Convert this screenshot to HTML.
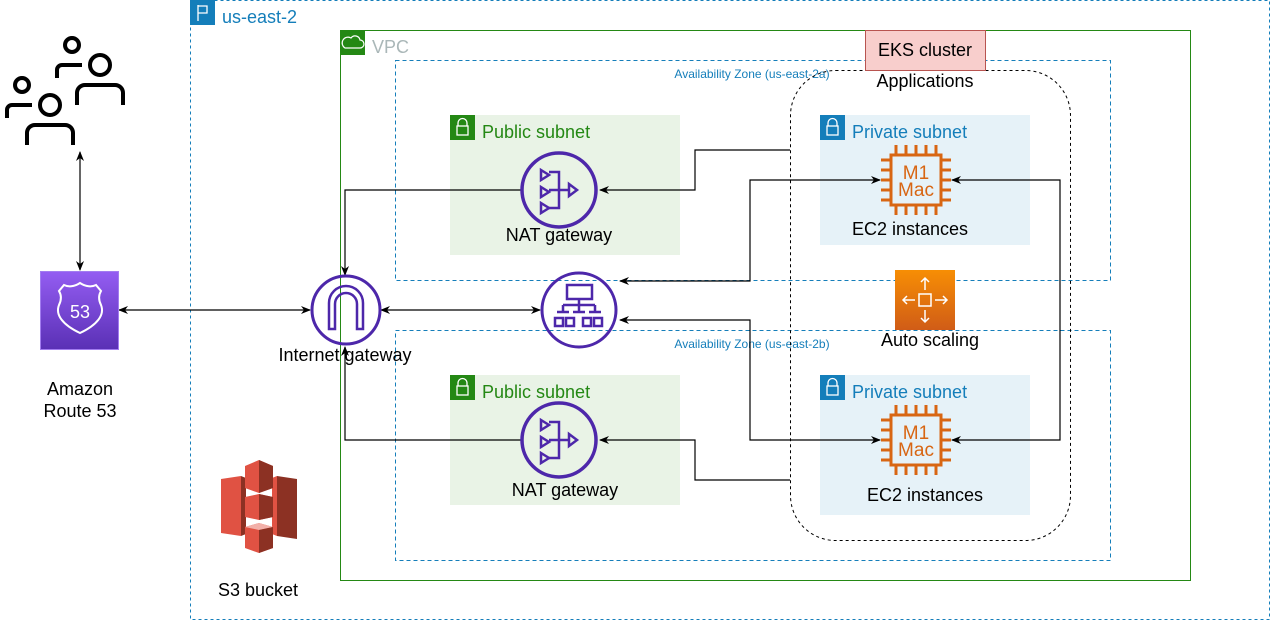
<!DOCTYPE html>
<html><head><meta charset="utf-8"><style>
html,body{margin:0;padding:0;background:#fff;width:1271px;height:621px;overflow:hidden}
text{font-family:"Liberation Sans",sans-serif}
</style></head><body>
<svg width="1271" height="621" viewBox="0 0 1271 621" xmlns="http://www.w3.org/2000/svg">
<defs>
<marker id="a" viewBox="0 0 10 10" refX="9" refY="5" markerWidth="10" markerHeight="10" markerUnits="userSpaceOnUse" orient="auto-start-reverse"><path d="M0,1 L10,5 L0,9 L3,5 Z" fill="#000"/></marker>
<linearGradient id="pg" x1="0" y1="0" x2="0" y2="1"><stop offset="0" stop-color="#945df2"/><stop offset="1" stop-color="#5a30b5"/></linearGradient>
<linearGradient id="og" x1="0" y1="0" x2="0" y2="1"><stop offset="0" stop-color="#f78e04"/><stop offset="1" stop-color="#d05c17"/></linearGradient>
<g id="chip" stroke="#d86613" stroke-width="3" fill="none">
<rect x="-25" y="-25" width="50" height="50"/>
<path d="M-20,-25v-10M-10,-25v-10M0,-25v-10M10,-25v-10M20,-25v-10M-20,25v10M-10,25v10M0,25v10M10,25v10M20,25v10M-25,-20h-10M-25,-10h-10M-25,0h-10M-25,10h-10M-25,20h-10M25,-20h10M25,-10h10M25,0h10M25,10h10M25,20h10"/>
</g>
<g id="nat" stroke="#4d27aa" stroke-width="3.5" fill="none">
<circle r="37"/>
<path d="M-18,-20l8,5l-8,5z M-18,-3l8,5l-8,5z M-18,13l8,5l-8,5z" stroke-width="2.5"/>
<path d="M-10,-18h10v36h-10 M-10,0h20" stroke-width="2.5"/>
<path d="M18,0l-8,-6v12z" stroke-width="2.5"/>
</g>
<g id="lock"><rect width="25" height="25"/><path d="M8,11v-3a4.5,4.5 0 0 1 9,0v3" stroke="#fff" stroke-width="1.3" fill="none"/><rect x="7" y="11" width="11" height="9" fill="none" stroke="#fff" stroke-width="1.3"/></g>
</defs>

<rect x="190.5" y="0.5" width="1079" height="619" fill="none" stroke="#147eba" stroke-dasharray="3,3"/>
<rect x="190" y="0" width="25" height="25" fill="#147eba"/>
<path d="M198,5v16M198,6h9v7h-9" stroke="#fff" stroke-width="1.3" fill="none"/>
<text x="222" y="23" font-size="18" fill="#147eba">us-east-2</text>

<rect x="340.5" y="30.5" width="850" height="550" fill="none" stroke="#248814"/>
<rect x="340" y="30" width="25" height="25" fill="#248814"/>
<path d="M345,48h15a4,4 0 0 0 0,-8a5,5 0 0 0 -9,-2a4,4 0 0 0 -6,10z" stroke="#fff" stroke-width="1.2" fill="none"/>
<text x="372" y="53" font-size="18" fill="#aab7b8">VPC</text>

<rect x="395.5" y="60.5" width="715" height="220" fill="none" stroke="#147eba" stroke-dasharray="4,3"/>
<text x="752" y="78" font-size="12" fill="#147eba" text-anchor="middle">Availability Zone (us-east-2a)</text>
<rect x="395.5" y="330.5" width="715" height="230" fill="none" stroke="#147eba" stroke-dasharray="4,3"/>
<text x="752" y="348" font-size="12" fill="#147eba" text-anchor="middle">Availability Zone (us-east-2b)</text>

<rect x="450" y="115" width="230" height="140" fill="#e9f3e6"/>
<use href="#lock" x="450" y="115" fill="#248814"/>
<text x="482" y="138" font-size="18" fill="#248814">Public subnet</text>
<rect x="450" y="375" width="230" height="130" fill="#e9f3e6"/>
<use href="#lock" x="450" y="375" fill="#248814"/>
<text x="482" y="398" font-size="18" fill="#248814">Public subnet</text>
<rect x="820" y="115" width="210" height="130" fill="#e6f2f8"/>
<use href="#lock" x="820" y="115" fill="#147eba"/>
<text x="852" y="138" font-size="18" fill="#147eba">Private subnet</text>
<rect x="820" y="375" width="210" height="140" fill="#e6f2f8"/>
<use href="#lock" x="820" y="375" fill="#147eba"/>
<text x="852" y="398" font-size="18" fill="#147eba">Private subnet</text>

<rect x="790.5" y="70.5" width="280" height="470" rx="45" fill="none" stroke="#000" stroke-dasharray="3,3"/>
<rect x="865.5" y="30.5" width="120" height="40" fill="#f8cecc" stroke="#b85450"/>
<text x="925" y="56" font-size="18" text-anchor="middle">EKS cluster</text>
<text x="925" y="87" font-size="18" text-anchor="middle">Applications</text>

<g stroke="#000" stroke-width="1.2" fill="none">
<path d="M80,152V270" marker-start="url(#a)" marker-end="url(#a)"/>
<path d="M119,310H310" marker-start="url(#a)" marker-end="url(#a)"/>
<path d="M381,310H540" marker-start="url(#a)" marker-end="url(#a)"/>
<path d="M522,190H345V275" marker-end="url(#a)"/>
<path d="M522,440H345V347" marker-end="url(#a)"/>
<path d="M790,150H695V190H600" marker-end="url(#a)"/>
<path d="M790,480H695V440H600" marker-end="url(#a)"/>
<path d="M620,281H750V180H880" marker-start="url(#a)" marker-end="url(#a)"/>
<path d="M620,320H750V440H880" marker-start="url(#a)" marker-end="url(#a)"/>
<path d="M952,180H1060V440H952" marker-start="url(#a)" marker-end="url(#a)"/>
</g>

<use href="#nat" x="559" y="190"/>
<text x="559" y="241" font-size="18" text-anchor="middle">NAT gateway</text>
<use href="#nat" x="559" y="440"/>
<text x="565" y="496" font-size="18" text-anchor="middle">NAT gateway</text>

<g stroke="#4d27aa" stroke-width="3" fill="none">
<circle cx="346" cy="310" r="34"/>
<path d="M329,329V303a17,17 0 0 1 34,0V329h-6V304a11,11 0 0 0 -22,0V329z" stroke-width="2.5"/>
</g>
<text x="345" y="361" font-size="18" text-anchor="middle">Internet gateway</text>

<g stroke="#4d27aa" stroke-width="3" fill="none">
<circle cx="579" cy="310" r="37"/>
<rect x="567" y="285" width="25" height="14" stroke-width="2.5"/>
<path d="M579,299v6M563,305h32M563,305v7M595,305v7M579,305v7M557,312h12M573,312h12M589,312h12" stroke-width="2.5"/>
<rect x="555" y="318" width="8" height="8" stroke-width="2.5"/><rect x="566" y="318" width="8" height="8" stroke-width="2.5"/><rect x="583" y="318" width="8" height="8" stroke-width="2.5"/><rect x="594" y="318" width="8" height="8" stroke-width="2.5"/>
</g>

<use href="#chip" x="916" y="180"/>
<text x="916" y="179" font-size="19" fill="#d86613" text-anchor="middle">M1</text>
<text x="916" y="196" font-size="19" fill="#d86613" text-anchor="middle">Mac</text>
<text x="910" y="235" font-size="18" text-anchor="middle">EC2 instances</text>
<use href="#chip" x="916" y="440"/>
<text x="916" y="439" font-size="19" fill="#d86613" text-anchor="middle">M1</text>
<text x="916" y="456" font-size="19" fill="#d86613" text-anchor="middle">Mac</text>
<text x="925" y="501" font-size="18" text-anchor="middle">EC2 instances</text>

<rect x="895" y="270" width="60" height="60" fill="url(#og)"/>
<g stroke="#fff" stroke-width="1.5" fill="none">
<rect x="919" y="294" width="12" height="12"/>
<path d="M925,290v-12M921,282l4,-4l4,4M925,310v12M921,318l4,4l4,-4M915,300h-12M907,296l-4,4l4,4M935,300h12M943,296l4,4l-4,4"/>
</g>
<text x="930" y="346" font-size="18" text-anchor="middle">Auto scaling</text>

<rect x="40.5" y="271.5" width="78" height="78" fill="url(#pg)" stroke="#a27cf0"/>
<path d="M80,283c-6,4 -12,4 -16,2l-5,6c3,5 2,10 0,14c-4,10 4,20 21,28c17,-8 25,-18 21,-28c-2,-4 -3,-9 0,-14l-5,-6c-4,2 -10,2 -16,-2z" fill="none" stroke="#fff" stroke-width="2"/>
<text x="80" y="318" font-size="18" fill="#fff" text-anchor="middle">53</text>
<text x="80" y="395" font-size="18" text-anchor="middle">Amazon</text>
<text x="80" y="417" font-size="18" text-anchor="middle">Route 53</text>

<g stroke="#000" stroke-width="4" fill="none">
<circle cx="72" cy="45" r="7"/><path d="M57,78v-8a5,5 0 0 1 5,-5h20"/>
<circle cx="100" cy="65" r="10"/><path d="M77,105v-12a8,8 0 0 1 8,-8h30a8,8 0 0 1 8,8v12"/>
<circle cx="22" cy="85" r="7"/><path d="M7,118v-8a5,5 0 0 1 5,-5h20"/>
<circle cx="50" cy="105" r="10"/><path d="M27,145v-12a8,8 0 0 1 8,-8h30a8,8 0 0 1 8,8v12"/>
</g>

<g>
<path d="M221,479l20,-3v60l-20,-3z" fill="#e05243"/>
<path d="M241,476l5,2v56l-5,2z" fill="#8c3123"/>
<path d="M297,479l-20,-3v60l20,3z" fill="#8c3123"/>
<path d="M272,478l5,-2v60l-5,-2z" fill="#e05243"/>
<path d="M245,466l14,-6l14,6v22l-14,5l-14,-5z" fill="#e05243"/>
<path d="M259,460l14,6v22l-14,5z" fill="#8c3123"/>
<path d="M245,497l14,-3l14,3v20l-14,3l-14,-3z" fill="#e05243"/>
<path d="M259,494l14,3v20l-14,3z" fill="#8c3123"/>
<path d="M245,527l14,-4l14,4v21l-14,5l-14,-5z" fill="#e05243"/>
<path d="M245,527l14,-4l14,4l-14,3z" fill="#f2b0a9"/>
<path d="M259,530l14,-3v21l-14,5z" fill="#8c3123"/>
</g>
<text x="258" y="596" font-size="18" text-anchor="middle">S3 bucket</text>
</svg>
</body></html>
